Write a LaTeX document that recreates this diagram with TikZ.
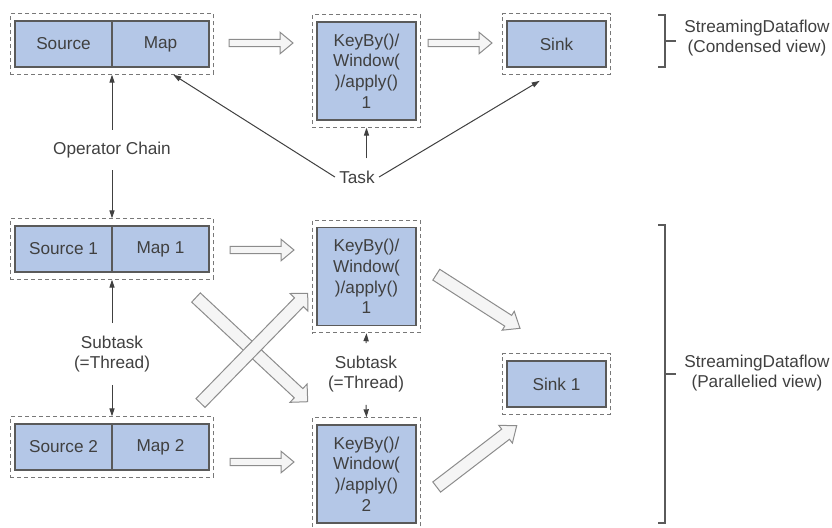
\documentclass[tikz,border=0pt]{standalone}
\usepackage{fontspec}
\setmainfont{Liberation Sans}
\usetikzlibrary{arrows.meta, positioning, fit, calc}

\definecolor{boxblue}{HTML}{B4C7E7}
\definecolor{boxline}{HTML}{5A5A5A}
\definecolor{txtgray}{HTML}{404040}
\definecolor{dashgray}{HTML}{787878}
\definecolor{arrowfill}{HTML}{F5F5F5}
\definecolor{arrowline}{HTML}{8C8C8C}

% wide hollow arrow: tail, tip, half shaft, half head, head length
\newcommand{\blockarrow}[5]{%
  \coordinate (ba-h) at ($(#2)!#5!(#1)$);
  \filldraw[hollow] ($(#1)!#3!90:(#2)$) -- ($(ba-h)!#3!90:(#2)$) -- ($(ba-h)!#4!90:(#2)$) -- (#2)
    -- ($(ba-h)!#4!-90:(#2)$) -- ($(ba-h)!#3!-90:(#2)$) -- ($(#1)!#3!-90:(#2)$) -- cycle;}

\begin{document}
\begin{tikzpicture}[x=0.5pt, y=-0.5pt,
    font=\fontsize{8.6}{10.4}\selectfont, text=txtgray,
    op/.style={draw=boxline, fill=boxblue, line width=0.6pt, inner sep=0pt, minimum width=48.5pt, minimum height=23pt, align=center},
    tall/.style={op, minimum width=49.5pt, minimum height=49pt},
    group/.style={draw=dashgray, dash pattern=on 2pt off 1.5pt, line width=0.5pt, inner xsep=2pt, inner ysep=3.3pt},
    note/.style={align=center, inner xsep=2pt, inner ysep=6pt},
    link/.style={draw=txtgray, line width=0.5pt, -{Triangle[length=4pt,width=2.6pt]}},
    hollow/.style={fill=arrowfill, draw=arrowline, line width=0.5pt},
    brace/.style={draw=boxline, line width=0.6pt}]

    \useasboundingbox (0,0) rectangle (832,527);

    % condensed view
    \node[op] (src) at (63.5,44) {Source};
    \node[op] (map) at (160.5,44) {Map};
    \node[group, fit=(src)(map)] (srcbox) {};
    \node[tall] (kb) at (366.5,71) {KeyBy()/\\Window(\\)/apply()\\1};
    \node[group, fit=(kb)] (kbbox) {};
    \node[op, minimum width=49.5pt] (sink) at (556.5,44) {Sink};
    \node[group, fit=(sink)] (sinkbox) {};

    % parallel view
    \node[op] (src1) at (63.5,249) {Source 1};
    \node[op] (map1) at (160.5,249) {Map 1};
    \node[group, fit=(src1)(map1)] (src1box) {};
    \node[op] (src2) at (63.5,447) {Source 2};
    \node[op] (map2) at (160.5,447) {Map 2};
    \node[group, fit=(src2)(map2)] (src2box) {};
    \node[tall] (kb1) at (366.5,276.5) {KeyBy()/\\Window(\\)/apply()\\1};
    \node[group, fit=(kb1)] (kb1box) {};
    \node[tall] (kb2) at (366.5,474) {KeyBy()/\\Window(\\)/apply()\\2};
    \node[group, fit=(kb2)] (kb2box) {};
    \node[op, minimum width=49.5pt] (sink1) at (556.5,384) {Sink 1};
    \node[group, fit=(sink1)] (sink1box) {};

    % labels
    \node[note] (opchain) at (112,150) {Operator Chain};
    \node[note] (task) at (357,177) {Task};
    \node[note] (sub1) at (112,354) {Subtask\\(=Thread)};
    \node[note] (sub2) at (366,374) {Subtask\\(=Thread)};
    \node[align=center, inner xsep=4pt] (flowtop) at (757,38) {StreamingDataflow\\(Condensed view)};
    \node[align=center, inner xsep=4pt] (flowbot) at (757,373) {StreamingDataflow\\(Parallelied view)};

    % braces
    \coordinate (bt) at (665,41);
    \coordinate (bb) at (665,374);
    \draw[brace] (658,15) -- (665,15) -- (665,67) -- (658,67);
    \draw[brace] (bt) -- (bt -| flowtop.west);
    \draw[brace] (658,225) -- (665,225) -- (665,523) -- (658,523);
    \draw[brace] (bb) -- (bb -| flowbot.west);

    % thin arrows
    \draw[link] (opchain.north) -- (srcbox.south);
    \draw[link] (opchain.south) -- (src1box.north);
    \draw[link] (task.west) -- ($(srcbox.south west)!0.8!(srcbox.south east)$);
    \draw[link] (task.north -| kbbox.south) -- (kbbox.south);
    \draw[link, shorten >=6pt] (task.east) -- ($(sinkbox.south west)!0.44!(sinkbox.south east)$);
    \draw[link] (sub1.north) -- (src1box.south);
    \draw[link] (sub1.south) -- (src2box.north);
    \draw[link] (sub2.north) -- (kb1box.south);
    \draw[link] (sub2.south) -- (kb2box.north);

    % data flow
    \coordinate (f1a) at (229,43);   \coordinate (f1b) at (293,43);
    \coordinate (f2a) at (428,43);   \coordinate (f2b) at (492,43);
    \coordinate (f3a) at (230,250);  \coordinate (f3b) at (294,250);
    \coordinate (f4a) at (230,462);  \coordinate (f4b) at (294,462);
    \coordinate (x1a) at (196,297.5); \coordinate (x1b) at (307.7,401.7);
    \coordinate (x2a) at (200.5,403); \coordinate (x2b) at (307.7,293.3);
    \coordinate (s1a) at (436.3,274.7); \coordinate (s1b) at (520,328.3);
    \coordinate (s2a) at (436.7,487);   \coordinate (s2b) at (516.7,425.7);
    \blockarrow{f1a}{f1b}{1.85pt}{5.4pt}{6.5pt}
    \blockarrow{f2a}{f2b}{1.85pt}{5.4pt}{6.5pt}
    \blockarrow{f3a}{f3b}{1.85pt}{5.4pt}{6.5pt}
    \blockarrow{f4a}{f4b}{1.85pt}{5.4pt}{6.5pt}
    \blockarrow{x1a}{x1b}{3.15pt}{6.25pt}{6.25pt}
    \blockarrow{x2a}{x2b}{3.15pt}{6.25pt}{6.25pt}
    \blockarrow{s1a}{s1b}{3.2pt}{5.6pt}{7pt}
    \blockarrow{s2a}{s2b}{3.2pt}{5.6pt}{7pt}

\end{tikzpicture}
\end{document}
